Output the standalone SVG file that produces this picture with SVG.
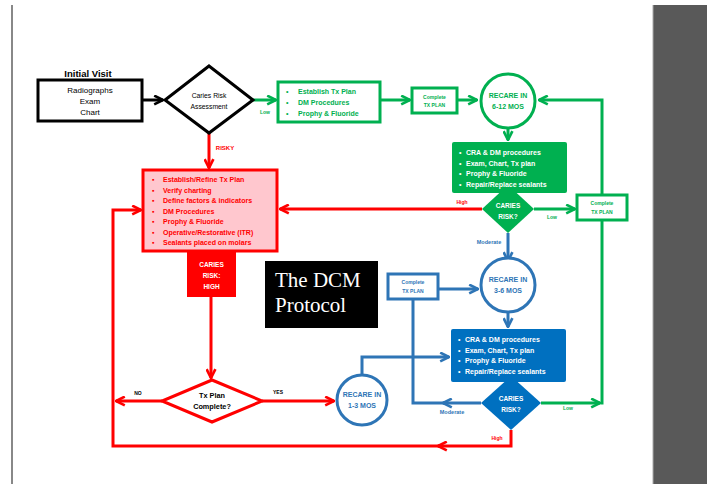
<svg xmlns="http://www.w3.org/2000/svg" width="707" height="484" viewBox="0 0 707 484">
<style>
text{font-family:"Liberation Sans",Arial,sans-serif;font-weight:bold}
.c{text-anchor:middle}
.g{fill:#00B050}.r{fill:#FF0000}.b{fill:#2E75B6}.w{fill:#fff}.k{fill:#000}
.n{font-weight:normal}
.lg{stroke:#00B050;stroke-width:3;fill:none}
.lr{stroke:#FF0000;stroke-width:3;fill:none}
.lb{stroke:#2E75B6;stroke-width:3;fill:none}
.lk{stroke:#000;stroke-width:3;fill:none}
.s5{font-size:5px}.s6{font-size:6px}.s7{font-size:7px}
</style>
<defs>
<marker id="ag" viewBox="0 0 10 10" refX="9" refY="5" markerWidth="11" markerHeight="11" markerUnits="userSpaceOnUse" orient="auto"><path d="M1,1 L9,5 L1,9" fill="none" stroke="#00B050" stroke-width="2.4"/></marker>
<marker id="ar" viewBox="0 0 10 10" refX="9" refY="5" markerWidth="11" markerHeight="11" markerUnits="userSpaceOnUse" orient="auto"><path d="M1,1 L9,5 L1,9" fill="none" stroke="#FF0000" stroke-width="2.4"/></marker>
<marker id="ab" viewBox="0 0 10 10" refX="9" refY="5" markerWidth="11" markerHeight="11" markerUnits="userSpaceOnUse" orient="auto"><path d="M1,1 L9,5 L1,9" fill="none" stroke="#2E75B6" stroke-width="2.4"/></marker>
<marker id="ak" viewBox="0 0 10 10" refX="9" refY="5" markerWidth="11" markerHeight="11" markerUnits="userSpaceOnUse" orient="auto"><path d="M1,1 L9,5 L1,9" fill="none" stroke="#000" stroke-width="2.4"/></marker>
</defs>
<rect width="707" height="484" fill="#fff"/>
<line x1="12" y1="5" x2="12" y2="484" stroke="#888" stroke-width="2"/>
<rect x="653" y="5" width="54" height="479" fill="#595959"/>
<line x1="653" y1="5" x2="653" y2="484" stroke="#aaa" stroke-width="1"/>

<g id="connectors">
<path class="lk" d="M142,100 L163,100" marker-end="url(#ak)"/>
<path class="lg" d="M253,100 L276,100" marker-end="url(#ag)"/>
<path class="lg" d="M380,100 L410,100" marker-end="url(#ag)"/>
<path class="lg" d="M457,100 L477,100" marker-end="url(#ag)"/>
<path class="lg" d="M508,128 L508,140" marker-end="url(#ag)"/>
<path class="lg" d="M602,195 L602,100 L539,100" marker-end="url(#ag)"/>
<path class="lg" d="M534,209 L575,209" marker-end="url(#ag)"/>
<path class="lg" d="M541,403 L600,403" marker-end="url(#ag)"/>
<path class="lg" d="M602,404.5 L602,220"/>
<path class="lr" d="M209,133 L209,168" marker-end="url(#ar)"/>
<path class="lr" d="M482,209 L280,209" marker-end="url(#ar)"/>
<path class="lr" d="M211,297 L211,378" marker-end="url(#ar)"/>
<path class="lr" d="M162,401 L116,401" marker-end="url(#ar)"/>
<path class="lr" d="M262,401 L334,401" marker-end="url(#ar)"/>
<path class="lr" d="M511,430 L511,446 L438,446" marker-end="url(#ar)"/>
<path class="lr" d="M440,446 L113,446 L113,210 L141,210" marker-end="url(#ar)"/>
<path class="lb" d="M508,233 L508,261" marker-end="url(#ab)"/>
<path class="lb" d="M438,289 L478,289" marker-end="url(#ab)"/>
<path class="lb" d="M508,312 L508,327" marker-end="url(#ab)"/>
<path class="lb" d="M362,375 L362,357 L449,357" marker-end="url(#ab)"/>
<path class="lb" d="M481,403 L443,403" marker-end="url(#ab)"/>
<path class="lb" d="M445,403 L413,403 L413,299"/>
<text class="g s5 c" x="265" y="114">Low</text>
<text class="g s5 c" x="552" y="219">Low</text>
<text class="g s5 c" x="568" y="410">Low</text>
<text class="r s6 c" x="225" y="150">RISKY</text>
<text class="r s5 c" x="462" y="204">High</text>
<text class="r s5 c" x="497" y="440">High</text>
<text class="k s5 c" x="138" y="395">NO</text>
<text class="k s5 c" x="278" y="394">YES</text>
<text class="b c" x="489" y="244" font-size="5.5">Moderate</text>
<text class="b c" x="452" y="414" font-size="5.5">Moderate</text>
</g>

<g id="initial-visit">
<text class="k c" x="88" y="77" font-size="9.5">Initial Visit</text>
<rect x="38" y="80" width="104" height="41" fill="#fff" stroke="#000" stroke-width="3"/>
<text class="k c n" x="90" y="93" font-size="8">Radiographs</text>
<text class="k c n" x="90" y="104" font-size="8">Exam</text>
<text class="k c n" x="90" y="115" font-size="8">Chart</text>
</g>

<g id="caries-risk-assessment">
<polygon points="209,66 253,100 209,133 165,100" fill="#fff" stroke="#000" stroke-width="3"/>
<text class="k c n" x="209" y="98" font-size="6.8">Caries Risk</text>
<text class="k c n" x="209" y="109" font-size="6.8">Assessment</text>
</g>

<g id="low-plan">
<rect x="278" y="82" width="102" height="40" fill="#fff" stroke="#00B050" stroke-width="3"/>
<text class="g s7"><tspan x="286" y="94">•</tspan><tspan x="298" y="94">Establish Tx Plan</tspan></text>
<text class="g s7"><tspan x="286" y="105">•</tspan><tspan x="298" y="105">DM Procedures</tspan></text>
<text class="g s7"><tspan x="286" y="116">•</tspan><tspan x="298" y="116">Prophy &amp; Fluoride</tspan></text>
</g>

<g id="complete-green-1">
<rect x="412" y="88" width="45" height="25" fill="#fff" stroke="#00B050" stroke-width="3"/>
<text class="g s5 c" x="434.5" y="99">Complete</text>
<text class="g s5 c" x="434.5" y="107">TX PLAN</text>
</g>

<g id="recare-6-12">
<circle cx="508" cy="101" r="27" fill="#fff" stroke="#00B050" stroke-width="3"/>
<text class="g s7 c" x="508" y="98">RECARE IN</text>
<text class="g s7 c" x="508" y="109">6-12 MOS</text>
</g>

<g id="green-procedures">
<polygon points="508,185 534,209 508,233 482,209" fill="#00B050"/>
<rect x="452" y="142" width="115" height="51" rx="2" fill="#00B050"/>
<text class="w s7"><tspan x="459" y="155">•</tspan><tspan x="466" y="155">CRA &amp; DM procedures</tspan></text>
<text class="w s7"><tspan x="459" y="166">•</tspan><tspan x="466" y="166">Exam, Chart, Tx plan</tspan></text>
<text class="w s7"><tspan x="459" y="176">•</tspan><tspan x="466" y="176">Prophy &amp; Fluoride</tspan></text>
<text class="w s7"><tspan x="459" y="187">•</tspan><tspan x="466" y="187">Repair/Replace sealants</tspan></text>
</g>

<g id="green-caries-risk">
<text class="w c" x="508" y="208" font-size="6.5">CARIES</text>
<text class="w c" x="508" y="219" font-size="6.5">RISK?</text>
</g>

<g id="complete-green-2">
<rect x="577" y="195" width="50" height="25" fill="#fff" stroke="#00B050" stroke-width="3"/>
<text class="g s5 c" x="602" y="205">Complete</text>
<text class="g s5 c" x="602" y="214">TX PLAN</text>
</g>

<g id="high-plan">
<rect x="143" y="170" width="134" height="81" fill="#FFC7CE" stroke="#FF0000" stroke-width="3"/>
<text class="r s7"><tspan x="152" y="182">▪</tspan><tspan x="163" y="182">Establish/Refine Tx Plan</tspan></text>
<text class="r s7"><tspan x="152" y="192.5">▪</tspan><tspan x="163" y="192.5">Verify charting</tspan></text>
<text class="r s7"><tspan x="152" y="203">▪</tspan><tspan x="163" y="203">Define factors &amp; indicators</tspan></text>
<text class="r s7"><tspan x="152" y="213.5">▪</tspan><tspan x="163" y="213.5">DM Procedures</tspan></text>
<text class="r s7"><tspan x="152" y="224">▪</tspan><tspan x="163" y="224">Prophy &amp; Fluoride</tspan></text>
<text class="r s7"><tspan x="152" y="234.5">▪</tspan><tspan x="163" y="234.5">Operative/Restorative (ITR)</tspan></text>
<text class="r s7"><tspan x="152" y="245">▪</tspan><tspan x="163" y="245">Sealants placed on molars</tspan></text>
</g>

<g id="caries-risk-high">
<rect x="187" y="252" width="49" height="45" fill="#FF0000"/>
<text class="w c" x="211.5" y="267" font-size="6.5">CARIES</text>
<text class="w c" x="211.5" y="278" font-size="6.5">RISK:</text>
<text class="w c" x="211.5" y="289" font-size="6.5">HIGH</text>
</g>

<g id="dcm-title">
<rect x="265" y="261" width="113" height="67" fill="#000"/>
<text x="275" y="287" font-size="21" fill="#fff" style="font-family:'Liberation Serif','Times New Roman',serif;font-weight:normal">The DCM</text>
<text x="275" y="312" font-size="21" fill="#fff" style="font-family:'Liberation Serif','Times New Roman',serif;font-weight:normal">Protocol</text>
</g>

<g id="complete-blue">
<rect x="388" y="274" width="50" height="25" fill="#fff" stroke="#2E75B6" stroke-width="3"/>
<text class="b s5 c" x="413" y="284">Complete</text>
<text class="b s5 c" x="413" y="293">TX PLAN</text>
</g>

<g id="recare-3-6">
<circle cx="508" cy="285" r="27" fill="#fff" stroke="#2E75B6" stroke-width="3"/>
<text class="b s7 c" x="508" y="282">RECARE IN</text>
<text class="b s7 c" x="508" y="293">3-6 MOS</text>
</g>

<g id="blue-procedures">
<polygon points="511,376 541,403 511,430 481,403" fill="#0070C0"/>
<rect x="451" y="329" width="115" height="53" rx="2" fill="#0070C0"/>
<text class="w s7"><tspan x="458" y="342">•</tspan><tspan x="465" y="342">CRA &amp; DM procedures</tspan></text>
<text class="w s7"><tspan x="458" y="353">•</tspan><tspan x="465" y="353">Exam, Chart, Tx plan</tspan></text>
<text class="w s7"><tspan x="458" y="363">•</tspan><tspan x="465" y="363">Prophy &amp; Fluoride</tspan></text>
<text class="w s7"><tspan x="458" y="374">•</tspan><tspan x="465" y="374">Repair/Replace sealants</tspan></text>
</g>

<g id="blue-caries-risk">
<text class="w c" x="511" y="401" font-size="6.5">CARIES</text>
<text class="w c" x="511" y="412" font-size="6.5">RISK?</text>
</g>

<g id="tx-plan-complete">
<polygon points="212,380 262,401 212,422 162,401" fill="#fff" stroke="#FF0000" stroke-width="3"/>
<text class="k c" x="212" y="398" font-size="7.3">Tx Plan</text>
<text class="k c" x="212" y="409" font-size="7.3">Complete?</text>
</g>

<g id="recare-1-3">
<circle cx="362" cy="400" r="25" fill="#fff" stroke="#2E75B6" stroke-width="3"/>
<text class="b s7 c" x="362" y="397">RECARE IN</text>
<text class="b s7 c" x="362" y="408">1-3 MOS</text>
</g>
</svg>
